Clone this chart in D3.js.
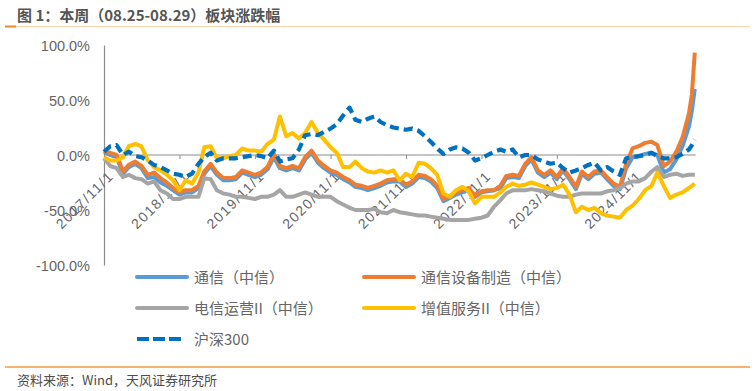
<!DOCTYPE html>
<html><head><meta charset="utf-8">
<script src="https://cdn.jsdelivr.net/npm/d3@7"></script>
<style>body{margin:0;background:#fff} svg{display:block}</style>
</head><body>
<svg id="c" width="755" height="391"></svg>
<script>
const dates = [
"2017-11-01","2017-12-01",
"2018-01-01","2018-02-01","2018-03-01","2018-04-01","2018-05-01","2018-06-01","2018-07-01","2018-08-01","2018-09-01","2018-10-01","2018-11-01","2018-12-01",
"2019-01-01","2019-02-01","2019-03-01","2019-04-01","2019-05-01","2019-06-01","2019-07-01","2019-08-01","2019-09-01","2019-10-01","2019-11-01","2019-12-01",
"2020-01-01","2020-02-01","2020-03-01","2020-04-01","2020-05-01","2020-06-01","2020-07-01","2020-08-01","2020-09-01","2020-10-01","2020-11-01","2020-12-01",
"2021-01-01","2021-02-01","2021-03-01","2021-04-01","2021-05-01","2021-06-01","2021-07-01","2021-08-01","2021-09-01","2021-10-01","2021-11-01","2021-12-01",
"2022-01-01","2022-02-01","2022-03-01","2022-04-01","2022-05-01","2022-06-01","2022-07-01","2022-08-01","2022-09-01","2022-10-01","2022-11-01","2022-12-01",
"2023-01-01","2023-02-01","2023-03-01","2023-04-01","2023-05-01","2023-06-01","2023-07-01","2023-08-01","2023-09-01","2023-10-01","2023-11-01","2023-12-01",
"2024-01-01","2024-02-01","2024-03-01","2024-04-01","2024-05-01","2024-06-01","2024-07-01","2024-08-01","2024-09-01","2024-10-01","2024-11-01","2024-12-01",
"2025-01-01","2025-02-01","2025-03-01","2025-04-01","2025-05-01","2025-06-01","2025-07-01","2025-08-01","2025-08-15","2025-08-29"
];

// 通信（中信）
const tongxin = [
 3, 0, -2, -17, -11, -8, -12, -21, -20, -25,
 -28, -32, -36, -34, -34, -30, -17, -10, -18, -23,
 -23, -22, -16, -18, -20, -18, -13, -2, -12, -14,
 -12, -14, -4, 2, -7, -12, -16, -18, -22, -25,
 -29, -30, -32, -30, -28, -25, -24, -24, -29, -26,
 -20, -21, -24, -30, -42, -39, -36, -34, -31, -38,
 -34, -33, -32, -30, -21, -20, -21, -10, -4, -16,
 -20, -16, -22, -14, -22, -31, -17, -22, -17, -16,
 -22, -28, -31, -12, -2, -1, 1, 2, 0, -16,
 -13, -4, 8, 26, 40, 60
];
// 通信设备制造（中信）
const shebei = [
 4, 2, 0, -15, -9, -6, -10, -18, -16, -21,
 -25, -30, -34, -32, -32, -28, -15, -8, -16, -21,
 -21, -20, -14, -16, -18, -16, -11, 1, -10, -12,
 -10, -12, -2, 4, -5, -10, -14, -16, -20, -23,
 -27, -28, -30, -28, -26, -23, -22, -22, -27, -24,
 -18, -19, -22, -28, -40, -37, -34, -32, -30, -37,
 -33, -32, -32, -28, -19, -18, -19, -8, -2, -14,
 -18, -14, -20, -12, -20, -29, -15, -20, -15, -14,
 -20, -26, -29, -8, 6, 8, 11, 12, 9, -10,
 -6, 3, 16, 38, 55, 93
];
// 电信运营II（中信）
const yunying = [
 -3, -10, -12, -20, -18, -21, -22, -26, -24, -32,
 -35, -40, -40, -38, -38, -38, -21, -22, -32, -35,
 -36, -38, -38, -39, -40, -38, -38, -36, -32, -38,
 -38, -36, -34, -36, -38, -38, -38, -42, -45, -48,
 -50, -50, -50, -49, -52, -53, -50, -52, -53, -54,
 -55, -55, -56, -57, -58, -59, -59, -59, -59, -58,
 -57, -55, -47, -41, -35, -32, -32, -32, -31, -32,
 -33, -35, -37, -38, -38, -36, -35, -35, -35, -35,
 -33, -32, -30, -26, -24, -24, -21, -15, -11, -20,
 -18, -17, -19, -18, -18, -18
];
// 增值服务II（中信）
const zengzhi = [
 -2, -5, -5, -2, 8, 10, 8, -5, -11, -14,
 -18, -23, -32, -23, -26, -16, 7, 8, -3, -3,
 -1, 0, 6, 4, 4, 3, 10, 14, 35, 17,
 20, 15, 20, 30, 20, 14, 7, 2, -11, -11,
 -6, -12, -15, -16, -14, -16, -14, -23, -17, -20,
 -7, -8, -12, -18, -35, -38, -32, -29, -33, -44,
 -38, -38, -38, -34, -29, -26, -28, -27, -25, -27,
 -29, -31, -30, -27, -36, -52, -47, -50, -48, -53,
 -55, -56, -57, -50, -46, -40, -32, -28, -16, -28,
 -39, -36, -34, -30, -28, -26
];
// 沪深300
const hs300 = [
 3, 8, 9, 0, 3, -1, -2, -5, -9, -11,
 -14, -17, -18, -20, -17, -8, -2, 2, -5, -3,
 -3, -3, -2, -1, 0, -1, -3, 4, -6, -4,
 -3, 5, 18, 19, 18, 21, 24, 28, 36, 43,
 32, 30, 33, 35, 30, 27, 25, 24, 23, 24,
 22, 17, 12, 6, 1, 5, 7, 6, 2, -5,
 -3, 0, 3, 5, 3, 5, -2, 0, 0, -4,
 -6, -8, -7, -12, -16, -14, -12, -9, -7, -14,
 -11, -15, -18, -3, -2, -1, 0, 2, -1, -3,
 -3, -2, 1, 5, 9, 14
];

const seriesNames = ["通信（中信）","通信设备制造（中信）","电信运营II（中信）","增值服务II（中信）","沪深300"];
const seriesValues = [tongxin, shebei, yunying, zengzhi, hs300];
const seriesColors = ["#5B9BD5","#ED7D31","#A5A5A5","#FFC000","#0070C0"];

const yTicks = [-100, -50, 0, 50, 100];
const xTickDates = ["2017-11-01","2018-11-01","2019-11-01","2020-11-01","2021-11-01","2022-11-01","2023-11-01","2024-11-01"];
const xTickLabels = ["2017/11/1","2018/11/1","2019/11/1","2020/11/1","2021/11/1","2022/11/1","2023/11/1","2024/11/1"];

const title = "图 1：本周（08.25-08.29）板块涨跌幅";
const source = "资料来源：Wind，天风证券研究所";

const parse = d3.timeParse("%Y-%m-%d");
const D = dates.map(parse);
const svg = d3.select("#c");
const cjk = "'Noto Sans CJK SC','Noto Sans',sans-serif";
const latin = "'Liberation Sans',Arial,sans-serif";

// title & rules
svg.append("text").attr("x",17).attr("y",21).text(title)
  .attr("font-family",cjk).attr("font-size",15).attr("font-weight","bold").attr("fill","#555555");
svg.append("line").attr("x1",5).attr("x2",750).attr("y1",26.5).attr("y2",26.5).attr("stroke","#FAD2AE").attr("stroke-width",1);
svg.append("line").attr("x1",5).attr("x2",16).attr("y1",26.5).attr("y2",26.5).attr("stroke","#F08A24").attr("stroke-width",2);
svg.append("line").attr("x1",5).attr("x2",750).attr("y1",367).attr("y2",367).attr("stroke","#F39A3C").attr("stroke-width",1.5);
svg.append("text").attr("x",17).attr("y",385).text(source)
  .attr("font-family",cjk).attr("font-size",13).attr("fill","#4d4d4d");

const x = d3.scaleTime().domain([parse("2017-11-01"), parse("2025-11-01")]).range([104, 708]);
const y = d3.scaleLinear().domain([-100, 100]).range([265, 45]);

// y axis
const ya = svg.append("g").attr("transform","translate(104,0)")
  .call(d3.axisLeft(y).tickValues(yTicks).tickSize(0).tickSizeOuter(0).tickPadding(14)
    .tickFormat(d => d.toFixed(1) + "%"));
ya.select(".domain").attr("stroke","#8c8c8c").attr("stroke-width",1.2);
ya.selectAll("text").attr("font-family",latin).attr("font-size",14.5).attr("fill","#666666").attr("dy","0.35em");

// x axis at zero
const xa = svg.append("g").attr("transform",`translate(0,${y(0)})`)
  .call(d3.axisBottom(x).tickValues(xTickDates.map(parse)).tickSize(4).tickSizeOuter(0)
    .tickFormat((d,i) => xTickLabels[i]));
xa.select(".domain").remove();
xa.append("line").attr("x1",x(D[0])).attr("x2",x(D[D.length-1])+1).attr("stroke","#8c8c8c").attr("stroke-width",1.2);
xa.selectAll(".tick line").attr("stroke","#8c8c8c");
xa.selectAll(".tick text")
  .attr("font-family",latin).attr("font-size",14).attr("fill","#666666")
  .attr("letter-spacing","1.5px")
  .attr("text-anchor","end").attr("dy",null).attr("y",null)
  .attr("transform","translate(10,22) rotate(-45)");

// lines
const line = d3.line().x((d,i) => x(D[i])).y(d => y(d));
seriesValues.forEach((vals, k) => {
  const p = svg.append("path").datum(vals).attr("d", line)
    .attr("fill","none").attr("stroke",seriesColors[k]).attr("stroke-width",4)
    .attr("stroke-linejoin","round");
  if (k === 4) p.attr("stroke-dasharray","9,5").attr("stroke-width",4.2);
});

// legend
const legPos = [[137,277],[364,277],[137,308],[364,308],[137,339]];
seriesNames.forEach((n,k) => {
  const [lx,ly] = legPos[k];
  const l = svg.append("line").attr("x1",lx).attr("x2",lx+50).attr("y1",ly).attr("y2",ly)
    .attr("stroke",seriesColors[k]).attr("stroke-width",4);
  if (k === 4) l.attr("stroke-dasharray","12,4").attr("x2",lx+44);
  else l.attr("stroke-linecap","round");
  svg.append("text").attr("x",lx+57).attr("y",ly+5.5).text(n)
    .attr("font-family",cjk).attr("font-size",15).attr("fill","#666666");
});
</script>
</body></html>
